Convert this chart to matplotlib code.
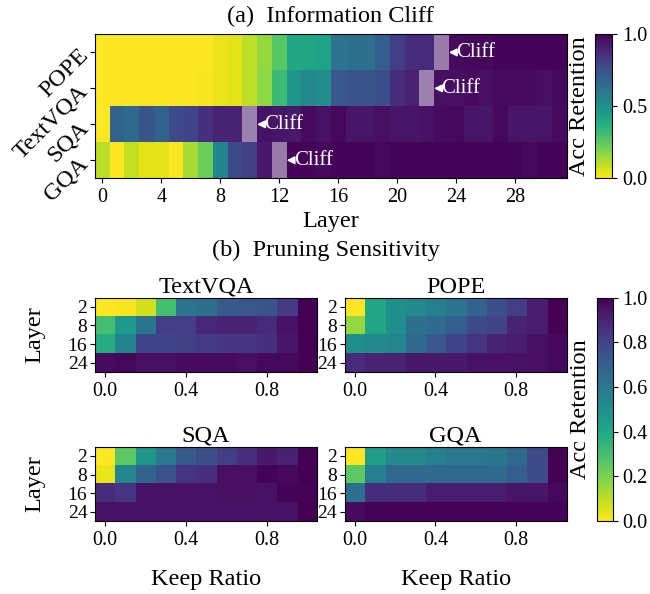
import numpy as np
import matplotlib
matplotlib.use('Agg')
import matplotlib.pyplot as plt
from matplotlib.patches import Rectangle

plt.rcParams['font.family'] = ['Liberation Serif', 'DejaVu Serif']

# ---------------- data: (a) Information Cliff ----------------
datasets_a = ['POPE', 'TextVQA', 'SQA', 'GQA']
layer_ticks_a = [0, 4, 8, 12, 16, 20, 24, 28]
pope_a = [0.0, 0.0, 0.0, 0.0, 0.0, 0.0, 0.0, 0.0, 0.03, 0.04, 0.1, 0.16, 0.26, 0.4, 0.41, 0.42,
          0.62, 0.63, 0.63, 0.7, 0.82, 0.87, 0.88, 0.95, 0.97, 0.98, 0.98, 0.99, 0.99, 0.99, 0.99, 0.99]
textvqa_a = [0.0, 0.0, 0.0, 0.0, 0.0, 0.0, 0.0, 0.01, 0.03, 0.04, 0.1, 0.17, 0.32, 0.48, 0.53, 0.51,
             0.73, 0.74, 0.74, 0.76, 0.87, 0.91, 0.93, 0.96, 0.96, 0.97, 0.96, 0.97, 0.97, 0.97, 0.96, 0.98]
sqa_a = [0.0, 0.68, 0.66, 0.74, 0.69, 0.78, 0.8, 0.86, 0.9, 0.9, 0.92, 0.95, 0.94, 0.93, 0.97, 0.95,
         0.98, 0.94, 0.94, 0.96, 0.94, 0.94, 0.95, 0.97, 0.98, 0.94, 0.94, 0.98, 0.94, 0.94, 0.94, 0.97]
gqa_a = [0.1, 0.0, 0.09, 0.04, 0.04, 0.01, 0.13, 0.23, 0.55, 0.78, 0.81, 0.93, 0.96, 0.99, 0.99, 0.98,
         0.99, 0.99, 0.99, 0.98, 0.99, 0.99, 0.99, 0.99, 0.99, 0.99, 0.99, 0.99, 0.99, 0.98, 0.99, 0.99]
cliff_layers = [23, 22, 10, 12]

# ---------------- data: (b) Pruning Sensitivity ----------------
panels_b = ['TextVQA', 'POPE', 'SQA', 'GQA']
layers_b = [2, 8, 16, 24]
keep_ratios = [0.0, 0.1, 0.2, 0.3, 0.4, 0.5, 0.6, 0.7, 0.8, 0.9, 1.0]
keep_ticks = [0.0, 0.4, 0.8]
textvqa_b = [[0.0, 0.01, 0.07, 0.3, 0.62, 0.63, 0.72, 0.73, 0.74, 0.83, 1.0],
             [0.3, 0.46, 0.61, 0.82, 0.82, 0.89, 0.9, 0.9, 0.88, 0.95, 1.0],
             [0.38, 0.55, 0.8, 0.8, 0.81, 0.83, 0.84, 0.85, 0.86, 0.94, 1.0],
             [0.97, 0.98, 0.96, 0.96, 0.97, 0.97, 0.97, 0.96, 0.98, 0.98, 1.0]]
pope_b = [[0.0, 0.4, 0.5, 0.52, 0.57, 0.62, 0.68, 0.76, 0.82, 0.92, 1.0],
          [0.16, 0.4, 0.5, 0.63, 0.65, 0.7, 0.78, 0.8, 0.9, 0.92, 1.0],
          [0.5, 0.52, 0.54, 0.66, 0.73, 0.8, 0.85, 0.9, 0.92, 0.96, 0.98],
          [0.88, 0.9, 0.9, 0.93, 0.93, 0.93, 0.95, 0.95, 0.95, 0.96, 0.98]]
sqa_b = [[0.0, 0.25, 0.47, 0.6, 0.72, 0.76, 0.82, 0.86, 0.93, 0.91, 1.0],
         [0.03, 0.54, 0.68, 0.75, 0.85, 0.86, 0.96, 0.96, 0.99, 0.98, 1.0],
         [0.87, 0.85, 0.95, 0.95, 0.95, 0.95, 0.96, 0.96, 0.95, 0.99, 0.99],
         [0.95, 0.95, 0.95, 0.95, 0.95, 0.95, 0.95, 0.95, 0.95, 0.95, 1.0]]
gqa_b = [[0.0, 0.45, 0.53, 0.53, 0.57, 0.6, 0.6, 0.61, 0.66, 0.77, 1.0],
         [0.25, 0.57, 0.66, 0.66, 0.66, 0.66, 0.66, 0.66, 0.7, 0.77, 1.0],
         [0.63, 0.87, 0.87, 0.87, 0.92, 0.92, 0.92, 0.92, 0.94, 0.94, 0.98],
         [0.97, 0.99, 0.99, 0.99, 0.99, 0.99, 0.99, 0.99, 0.99, 0.99, 0.99]]

CMAP = 'viridis_r'
TICK_FS = 14.5
LABEL_FS = 17.5

fig = plt.figure(figsize=(6.5, 5.94), dpi=100)

# ---------------- (a) ----------------
ax = fig.add_axes([0.146, 0.700, 0.726, 0.242])
M = np.array([pope_a, textvqa_a, sqa_a, gqa_a])
n_layers = M.shape[1]
im = ax.imshow(M, cmap=CMAP, vmin=0, vmax=1, aspect='auto', interpolation='nearest',
               extent=(-0.5, n_layers - 0.5, len(datasets_a) - 0.5, -0.5))
for r, c in enumerate(cliff_layers):
    ax.add_patch(Rectangle((c - 0.5, r - 0.5), 1, 1, facecolor='white', alpha=0.45,
                           edgecolor='none'))
    ax.annotate('Cliff', xy=(c + 0.5, r), xytext=(c + 1.0, r), color='white',
                fontsize=15, ha='left', va='center',
                arrowprops=dict(arrowstyle='-|>', color='white', lw=1.3,
                                mutation_scale=11, shrinkA=0, shrinkB=0))
ax.set_xticks(layer_ticks_a)
ax.set_xticklabels([str(t) for t in layer_ticks_a], fontsize=TICK_FS)
ax.set_yticks(range(len(datasets_a)))
ax.set_yticklabels(datasets_a, fontsize=17.5, rotation=45, ha='right', va='center',
                   rotation_mode='anchor')
ax.set_xlabel('Layer', fontsize=LABEL_FS, labelpad=3)
ax.set_title('(a)  Information Cliff', fontsize=LABEL_FS, pad=9)

cax_a = fig.add_axes([0.916, 0.700, 0.026, 0.242])
cb_a = fig.colorbar(im, cax=cax_a, ticks=[0.0, 0.5, 1.0])
cb_a.ax.set_yticklabels(['0.0', '0.5', '1.0'], fontsize=TICK_FS)
cb_a.ax.yaxis.set_label_position('left')
cb_a.set_label('Acc Retention', fontsize=LABEL_FS)

# ---------------- (b) ----------------
fig.text(0.502, 0.578, '(b)  Pruning Sensitivity', fontsize=LABEL_FS, ha='center', va='center')
positions = [[0.146, 0.374, 0.342, 0.125],
             [0.530, 0.374, 0.342, 0.125],
             [0.146, 0.123, 0.342, 0.125],
             [0.530, 0.123, 0.342, 0.125]]
mats = [textvqa_b, pope_b, sqa_b, gqa_b]
dk = keep_ratios[1] - keep_ratios[0]
for i, (name, pos, mat) in enumerate(zip(panels_b, positions, mats)):
    axb = fig.add_axes(pos)
    imb = axb.imshow(np.array(mat), cmap=CMAP, vmin=0, vmax=1, aspect='auto',
                     interpolation='nearest',
                     extent=(keep_ratios[0] - dk / 2, keep_ratios[-1] + dk / 2,
                             len(layers_b) - 0.5, -0.5))
    axb.set_xticks(keep_ticks)
    axb.set_xticklabels(['%.1f' % k for k in keep_ticks], fontsize=TICK_FS)
    axb.set_yticks(range(len(layers_b)))
    axb.set_yticklabels([str(l) for l in layers_b], fontsize=14)
    axb.tick_params(axis='y', pad=2)
    axb.set_title(name, fontsize=LABEL_FS, pad=3)
    if i % 2 == 0:
        axb.set_ylabel('Layer', fontsize=LABEL_FS, labelpad=16)
    if i >= 2:
        axb.set_xlabel('Keep Ratio', fontsize=LABEL_FS, labelpad=14)

cax_b = fig.add_axes([0.918, 0.123, 0.025, 0.376])
cb_b = fig.colorbar(imb, cax=cax_b, ticks=[0.0, 0.2, 0.4, 0.6, 0.8, 1.0])
cb_b.ax.set_yticklabels(['0.0', '0.2', '0.4', '0.6', '0.8', '1.0'], fontsize=TICK_FS)
cb_b.ax.yaxis.set_label_position('left')
cb_b.set_label('Acc Retention', fontsize=LABEL_FS)

fig.savefig('out.png', dpi=100)
